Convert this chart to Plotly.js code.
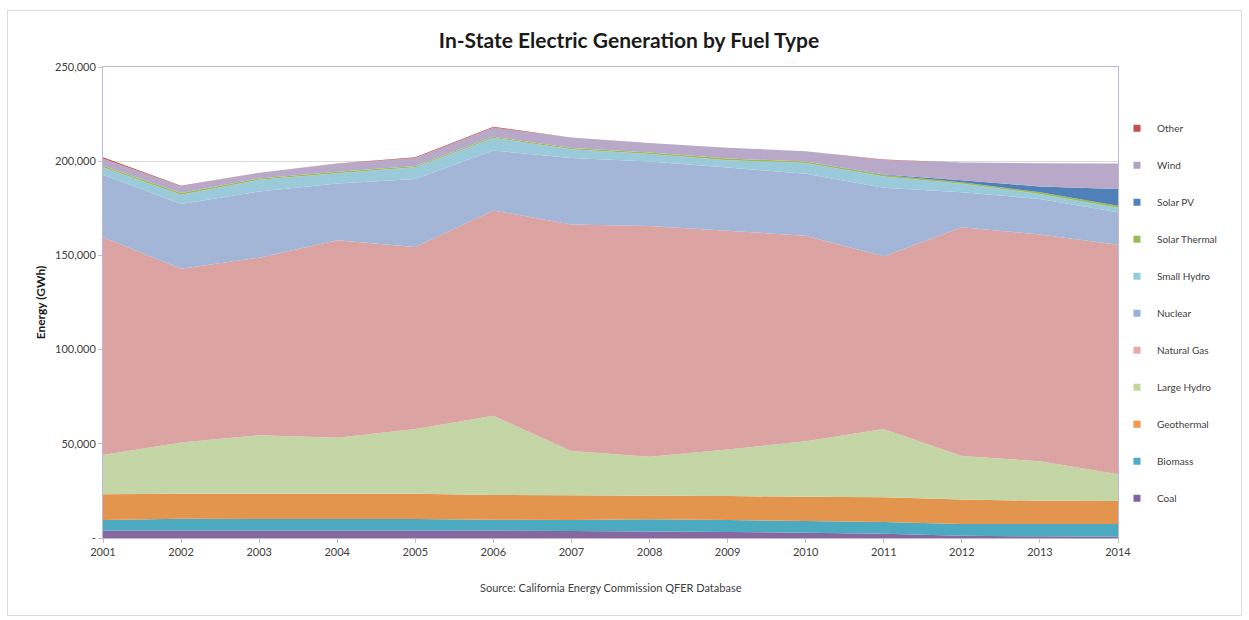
<!DOCTYPE html>
<html>
<head>
<meta charset="utf-8">
<script src="https://cdn.plot.ly/plotly-3.0.1.min.js"></script>
<style>
  html, body { margin: 0; padding: 0; background: #ffffff; }
  #wrap { position: relative; width: 1249px; height: 620px; }
  #chart { position: absolute; left: 0; top: 0; width: 1249px; height: 620px; }
  #frame { position: absolute; left: 7px; top: 10px; width: 1233px; height: 604px;
           border: 1px solid #DCDCDC; pointer-events: none; }
</style>
</head>
<body>
<div id="wrap">
  <div id="chart"></div>
  <div id="frame"></div>
</div>
<script>
// ---- Data (GWh) ----
const years = [2001, 2002, 2003, 2004, 2005, 2006, 2007, 2008, 2009, 2010, 2011, 2012, 2013, 2014];

const coal         = [3900, 3900, 3900, 3900, 3900, 3900, 3700, 3400, 3200, 2800, 2300, 1200, 900, 700];
const biomass      = [5700, 6350, 6200, 6200, 6200, 5850, 5850, 6550, 6350, 6200, 6200, 6200, 6500, 6700];
const geothermal   = [13600, 13250, 13400, 13400, 13400, 13100, 13100, 12500, 12700, 12900, 13100, 13100, 12350, 12200];
const largeHydro   = [20800, 27200, 31100, 29700, 34300, 42000, 23500, 20700, 24700, 29500, 36200, 23000, 21000, 14300];
const naturalGas   = [115700, 92200, 94200, 104800, 96600, 109000, 120300, 122400, 116200, 109000, 91700, 121500, 120300, 121700];
const nuclear      = [33100, 34400, 35100, 30200, 36200, 31800, 35300, 34300, 33500, 32900, 36400, 18500, 18900, 17300];
const smallHydro   = [4000, 4900, 6200, 5400, 6200, 6700, 4600, 4000, 3900, 5800, 6000, 4500, 2700, 2400];
const solarThermal = [850, 860, 760, 740, 660, 620, 670, 730, 850, 770, 800, 850, 850, 1000];
const solarPV      = [0, 0, 0, 0, 0, 0, 0, 0, 0, 0, 300, 1100, 3050, 9000];
const wind         = [3800, 3600, 3000, 4300, 4300, 4900, 5600, 5100, 5800, 5400, 7600, 9400, 12350, 13500];
const other        = [700, 350, 0, 150, 300, 450, 0, 0, 0, 0, 300, 0, 0, 0];

const seriesNames = ['Coal', 'Biomass', 'Geothermal', 'Large Hydro', 'Natural Gas', 'Nuclear',
                     'Small Hydro', 'Solar Thermal', 'Solar PV', 'Wind', 'Other'];
const seriesValues = [coal, biomass, geothermal, largeHydro, naturalGas, nuclear,
                      smallHydro, solarThermal, solarPV, wind, other];
const fillColors = ['#8667A0', '#4BA9C0', '#E3954D', '#C5D6A6', '#DBA4A3', '#A3B6D7',
                    '#9BCBDB', '#9DBB55', '#4F80B8', '#B9A9C8', '#C0504D'];
const legendColors = ['#8064A2', '#4BACC6', '#F79646', '#C3D69B', '#E6A9A8', '#95B3D7',
                      '#93CDDD', '#9BBB59', '#4F81BD', '#B3A2C7', '#C0504D'];

const yTickVals = [0, 50000, 100000, 150000, 200000, 250000];
const yTickText = ['-', '50,000', '100,000', '150,000', '200,000', '250,000'];

const chartTitle = 'In-State Electric Generation by Fuel Type';
const yTitle = 'Energy (GWh)';
const sourceNote = 'Source: California Energy Commission QFER Database';

// ---- Traces ----
const traces = [];
seriesNames.forEach((name, i) => {
  traces.push({
    type: 'scatter',
    x: years,
    y: seriesValues[i],
    name: name,
    stackgroup: 'one',
    mode: 'none',
    fillcolor: fillColors[i],
    line: { width: 0, shape: 'linear' },
    showlegend: false,
    hovertemplate: name + ' %{x}: %{y:,}<extra></extra>'
  });
});
// legend entries, top to bottom: Other ... Coal
for (let i = seriesNames.length - 1; i >= 0; i--) {
  traces.push({
    type: 'scatter',
    x: [null],
    y: [null],
    name: seriesNames[i],
    mode: 'markers',
    marker: { symbol: 'square', size: 7, color: legendColors[i] },
    showlegend: true,
    legendgroup: 'g' + i,
    hoverinfo: 'skip'
  });
}

const baseFont = 'Lato, "Open Sans", "Liberation Sans", sans-serif';

const layout = {
  width: 1249,
  height: 620,
  paper_bgcolor: 'rgba(0,0,0,0)',
  plot_bgcolor: '#ffffff',
  margin: { l: 103, r: 131, t: 67, b: 82 },
  font: { family: baseFont, size: 11, color: '#404040' },
  title: {
    text: '<b>' + chartTitle + '</b>',
    font: { family: baseFont, size: 21, color: '#1a1a1a' },
    x: 0.5036, xanchor: 'center',
    y: 0.934, yanchor: 'middle', xref: 'container', yref: 'container'
  },
  xaxis: {
    type: 'linear',
    range: [2001, 2014],
    tickmode: 'array',
    tickvals: years,
    ticktext: years.map(String),
    ticks: 'outside',
    ticklen: 4,
    tickcolor: '#BFBFBF',
    showgrid: false,
    zeroline: false,
    showline: true,
    linecolor: '#BDB8D8',
    linewidth: 1,
    mirror: true,
    tickfont: { size: 11, color: '#404040' }
  },
  yaxis: {
    range: [0, 250000],
    tickmode: 'array',
    tickvals: yTickVals,
    ticktext: yTickText,
    ticks: 'outside',
    ticklen: 4,
    tickcolor: '#BFBFBF',
    showgrid: true,
    gridcolor: '#D9D9D9',
    zeroline: false,
    showline: true,
    linecolor: '#BDB8D8',
    linewidth: 1,
    mirror: true,
    tickfont: { size: 11, color: '#404040' },
    title: {
      text: '<b>' + yTitle + '</b>',
      font: { family: baseFont, size: 12, color: '#1a1a1a' },
      standoff: 6
    }
  },
  legend: {
    x: 0.999, xanchor: 'left',
    y: 0.9005, yanchor: 'top',
    traceorder: 'grouped',
    tracegroupgap: 18,
    itemwidth: 30,
    font: { family: baseFont, size: 10, color: '#404040' },
    bgcolor: 'rgba(0,0,0,0)'
  },
  annotations: [{
    text: sourceNote,
    xref: 'paper', yref: 'paper',
    x: 0.5, y: -0.106, xanchor: 'center', yanchor: 'middle',
    showarrow: false,
    font: { family: baseFont, size: 11, color: '#404040' }
  }],
  showlegend: true
};

Plotly.newPlot('chart', traces, layout, { displayModeBar: false, staticPlot: true });
</script>
</body>
</html>
